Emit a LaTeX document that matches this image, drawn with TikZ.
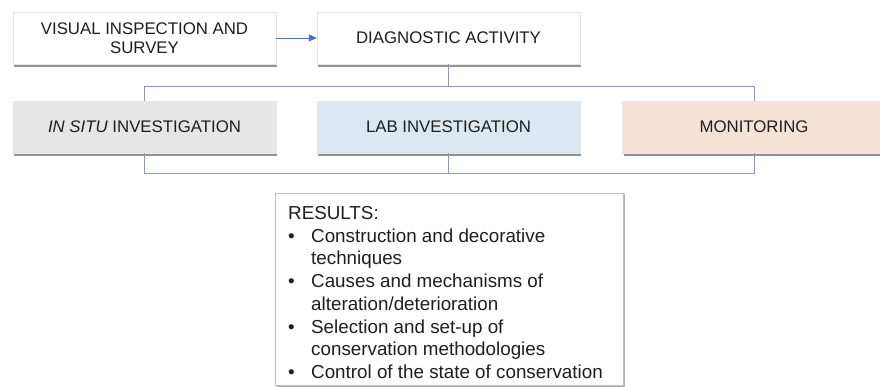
\documentclass[tikz,border=0pt]{standalone}
\usepackage{fontspec}
\setmainfont{Liberation Sans}
\usetikzlibrary{shadows,arrows.meta}
\definecolor{txt}{HTML}{1E1E1E}
\definecolor{conncol}{HTML}{8A95C8}
\definecolor{arrcol}{HTML}{4472C4}
\definecolor{grayfill}{HTML}{E6E6E6}
\definecolor{bluefill}{HTML}{DDE7F1}
\definecolor{peachfill}{HTML}{F7E2D6}
\tikzset{
  boxstyle/.style={rectangle, minimum width=263pt, minimum height=52pt, inner sep=0pt,
    text=txt, font=\fontsize{16.8}{19.5}\selectfont, align=center,
    draw=black!10, line width=0.4pt,
    drop shadow={shadow xshift=1.2pt, shadow yshift=-2.6pt, fill=black!65, opacity=0.65}},
  conn/.style={draw=conncol, line width=0.9pt},
  arr/.style={draw=arrcol, line width=0.8pt, -{Triangle[length=8pt,width=7pt]}}
}
\begin{document}
\begin{tikzpicture}[x=1pt,y=-1pt]
\useasboundingbox (0,0) rectangle (880,387);
\clip (0,0) rectangle (880,387);
\fill[white] (0,0) rectangle (880,387);

\node[boxstyle, fill=white] (vis) at (144.5,38) {VISUAL INSPECTION AND\\SURVEY};
\node[boxstyle, fill=white] (diag) at (448.5,38) {DIAGNOSTIC ACTIVITY};
\node[boxstyle, fill=grayfill] (situ) at (144.5,127) {\textit{IN SITU} INVESTIGATION};
\node[boxstyle, fill=bluefill] (lab) at (448.5,127) {LAB INVESTIGATION};
\node[boxstyle, fill=peachfill] (mon) at (754,127) {MONITORING};

\node[rectangle, minimum width=348pt, minimum height=192pt, inner sep=0pt,
  fill=white, draw=black!25, line width=0.5pt,
  drop shadow={shadow xshift=1.8pt, shadow yshift=-1.5pt, fill=black!55, opacity=0.55}] (res) at (449,289) {};
\node[anchor=north west, inner sep=0pt, text=txt, align=left,
  font=\fontsize{18.8}{22.7}\selectfont] (restxt) at (288,203.5) {%
  \begin{tabular}{@{}p{23pt}@{}l@{}}
  \multicolumn{2}{@{}l}{RESULTS:}\\
  \textbullet & Construction and decorative\\
   & techniques\\
  \textbullet & Causes and mechanisms of\\
   & alteration/deterioration\\
  \textbullet & Selection and set-up of\\
   & conservation methodologies\\
  \textbullet & Control of the state of conservation
  \end{tabular}};

\draw[arr] (vis.east) -- (diag.west);

\coordinate (tb) at (0,86);
\coordinate (bb) at (0,173);
\draw[conn] (situ.north) -- (situ.north |- tb) -- (mon.north |- tb) -- (mon.north);
\draw[conn] (diag.south) -- (diag.south |- tb);
\draw[conn] (situ.south) -- (situ.south |- bb) -- (mon.south |- bb) -- (mon.south);
\draw[conn] (lab.south) -- (lab.south |- bb);
\end{tikzpicture}
\end{document}
